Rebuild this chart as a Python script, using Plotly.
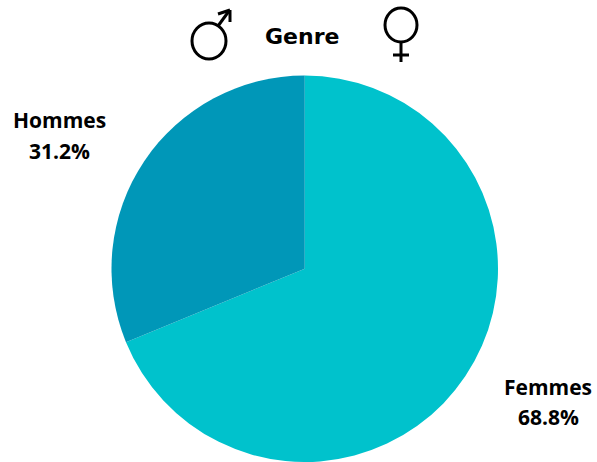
import plotly.graph_objects as go

labels = ["Femmes", "Hommes"]
values = [68.8, 31.2]
colors = ["#00C2CC", "#0097B8"]
W, H = 597, 462

def px(x):
    return x / W

def py(y):
    return 1 - y / H

fig = go.Figure(go.Pie(
    labels=labels, values=values, sort=False, direction="clockwise", rotation=0,
    marker=dict(colors=colors, line=dict(width=0)), textinfo="none", hoverinfo="label+percent",
    domain=dict(x=[px(111), px(498.5)], y=[py(462), py(75.5)]),
    showlegend=False,
))

def note(x, y, text, size, family="Open Sans"):
    fig.add_annotation(x=px(x), y=py(y), text=f"<b>{text}</b>", showarrow=False, xref="paper", yref="paper",
                       xanchor="center", yanchor="middle",
                       font=dict(family=family, size=size, color="#000"))

note(59, 120, labels[1], 21)
note(59, 151, f"{values[1]}%", 21)
note(548, 387, labels[0], 21)
note(548, 417, f"{values[0]}%", 21)
note(302, 36, "Genre", 22, "DejaVu Sans")

line = dict(color="#000", width=3)

def circle(cx, cy, rx, ry):
    fig.add_shape(type="circle", xref="paper", yref="paper", line=line,
                  x0=px(cx - rx), x1=px(cx + rx), y0=py(cy + ry), y1=py(cy - ry))

def seg(x0, y0, x1, y1):
    fig.add_shape(type="line", xref="paper", yref="paper", line=line,
                  x0=px(x0), y0=py(y0), x1=px(x1), y1=py(y1))

# male symbol
circle(209, 41, 17, 18)
seg(218, 26, 229, 11)
seg(218, 14, 230, 10)
seg(230, 10, 230, 22)
# female symbol
circle(401, 25, 16, 17)
seg(401, 42, 401, 62)
seg(393, 55, 409, 55)

fig.update_layout(width=W, height=H, margin=dict(l=0, r=0, t=0, b=0), paper_bgcolor="#fff")
fig.write_html("out.html", config={"displayModeBar": False}, post_script="document.body.style.margin='0';")
